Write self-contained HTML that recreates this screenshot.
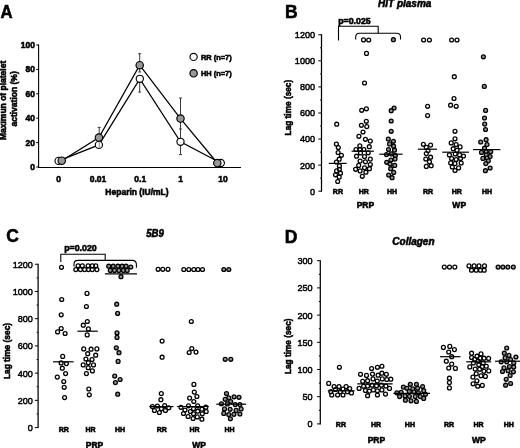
<!DOCTYPE html>
<html><head><meta charset="utf-8"><style>
html,body{margin:0;padding:0;background:#fff;width:520px;height:448px;overflow:hidden}
svg{display:block;filter:grayscale(100%)}
text{font-family:"Liberation Sans", sans-serif;fill:#000}
</style></head><body>
<svg width="520" height="448" viewBox="0 0 520 448">
<rect width="520" height="448" fill="#fff"/>
<text font-size="18.0" font-weight="bold" text-anchor="start" transform="translate(0.6 18) scale(0.93 1)" stroke="#000" stroke-width="0.55">A</text>
<line x1="38.6" y1="44.5" x2="38.6" y2="167.5" stroke="#000" stroke-width="1.1"/>
<line x1="36.2" y1="167.0" x2="38.6" y2="167.0" stroke="#000" stroke-width="1.0"/>
<text font-size="8.5" font-weight="bold" text-anchor="end" transform="translate(34.9 170.0)" stroke="#000" stroke-width="0.55">0</text>
<line x1="36.2" y1="142.6" x2="38.6" y2="142.6" stroke="#000" stroke-width="1.0"/>
<text font-size="8.5" font-weight="bold" text-anchor="end" transform="translate(34.9 145.6)" stroke="#000" stroke-width="0.55">20</text>
<line x1="36.2" y1="118.2" x2="38.6" y2="118.2" stroke="#000" stroke-width="1.0"/>
<text font-size="8.5" font-weight="bold" text-anchor="end" transform="translate(34.9 121.2)" stroke="#000" stroke-width="0.55">40</text>
<line x1="36.2" y1="93.80000000000001" x2="38.6" y2="93.80000000000001" stroke="#000" stroke-width="1.0"/>
<text font-size="8.5" font-weight="bold" text-anchor="end" transform="translate(34.9 96.80000000000001)" stroke="#000" stroke-width="0.55">60</text>
<line x1="36.2" y1="69.4" x2="38.6" y2="69.4" stroke="#000" stroke-width="1.0"/>
<text font-size="8.5" font-weight="bold" text-anchor="end" transform="translate(34.9 72.4)" stroke="#000" stroke-width="0.55">80</text>
<line x1="36.2" y1="45.0" x2="38.6" y2="45.0" stroke="#000" stroke-width="1.0"/>
<text font-size="8.5" font-weight="bold" text-anchor="end" transform="translate(34.9 48.0)" stroke="#000" stroke-width="0.55">100</text>
<line x1="38.1" y1="167.5" x2="241" y2="167.5" stroke="#000" stroke-width="1.15"/>
<text font-size="8.5" font-weight="bold" text-anchor="middle" transform="translate(58.7 182.2)" stroke="#000" stroke-width="0.55">0</text>
<text font-size="8.5" font-weight="bold" text-anchor="middle" transform="translate(98 182.2)" stroke="#000" stroke-width="0.55">0.01</text>
<text font-size="8.5" font-weight="bold" text-anchor="middle" transform="translate(140.2 182.2)" stroke="#000" stroke-width="0.55">0.1</text>
<text font-size="8.5" font-weight="bold" text-anchor="middle" transform="translate(180.5 182.2)" stroke="#000" stroke-width="0.55">1</text>
<text font-size="8.5" font-weight="bold" text-anchor="middle" transform="translate(223 182.2)" stroke="#000" stroke-width="0.55">10</text>
<text font-size="8.5" font-weight="bold" text-anchor="middle" transform="translate(137 194.6)" stroke="#000" stroke-width="0.55">Heparin (IU/mL)</text>
<text font-size="8.5" font-weight="bold" text-anchor="middle" transform="translate(5.8 100.4) rotate(-90)" stroke="#000" stroke-width="0.55">Maximun of platelet</text>
<text font-size="8.5" font-weight="bold" text-anchor="middle" transform="translate(16.6 98.9) rotate(-90)" stroke="#000" stroke-width="0.55">activation (%)</text>
<line x1="99.2" y1="137.6" x2="99.2" y2="127.4" stroke="#3a3a3a" stroke-width="1.0"/>
<line x1="97.7" y1="127.4" x2="100.7" y2="127.4" stroke="#3a3a3a" stroke-width="1.0"/>
<line x1="99.2" y1="145" x2="99.2" y2="148.5" stroke="#3a3a3a" stroke-width="1.0"/>
<line x1="139.7" y1="65.2" x2="139.7" y2="53.7" stroke="#3a3a3a" stroke-width="1.0"/>
<line x1="138.2" y1="53.7" x2="141.2" y2="53.7" stroke="#3a3a3a" stroke-width="1.0"/>
<line x1="139.7" y1="65.2" x2="139.7" y2="72" stroke="#3a3a3a" stroke-width="1.0"/>
<line x1="138.2" y1="72" x2="141.2" y2="72" stroke="#3a3a3a" stroke-width="1.0"/>
<line x1="139.7" y1="78.8" x2="139.7" y2="92.1" stroke="#3a3a3a" stroke-width="1.0"/>
<line x1="138.2" y1="92.1" x2="141.2" y2="92.1" stroke="#3a3a3a" stroke-width="1.0"/>
<line x1="180.5" y1="118.6" x2="180.5" y2="98" stroke="#3a3a3a" stroke-width="1.0"/>
<line x1="179.0" y1="98" x2="182.0" y2="98" stroke="#3a3a3a" stroke-width="1.0"/>
<line x1="180.5" y1="118.6" x2="180.5" y2="129" stroke="#3a3a3a" stroke-width="1.0"/>
<line x1="179.0" y1="129" x2="182.0" y2="129" stroke="#3a3a3a" stroke-width="1.0"/>
<line x1="180.5" y1="141.8" x2="180.5" y2="154.6" stroke="#3a3a3a" stroke-width="1.0"/>
<line x1="179.0" y1="154.6" x2="182.0" y2="154.6" stroke="#3a3a3a" stroke-width="1.0"/>
<line x1="180.5" y1="141.8" x2="180.5" y2="128" stroke="#3a3a3a" stroke-width="1.0"/>
<path d="M58.6,160.9 L98.9,144.9 L139.8,78.8 L180.5,141.8 L220.8,163.0" fill="none" stroke="#000" stroke-width="1.25"/>
<path d="M61.7,160.7 L98.9,137.6 L139.7,65.2 L180.5,118.6 L217.3,163.0" fill="none" stroke="#000" stroke-width="1.25"/>
<circle cx="58.6" cy="160.9" r="3.6" fill="#fff" stroke="#000" stroke-width="1.15"/>
<circle cx="98.9" cy="144.9" r="3.6" fill="#fff" stroke="#000" stroke-width="1.15"/>
<circle cx="139.8" cy="78.8" r="3.6" fill="#fff" stroke="#000" stroke-width="1.15"/>
<circle cx="180.5" cy="141.8" r="3.6" fill="#fff" stroke="#000" stroke-width="1.15"/>
<circle cx="61.7" cy="160.7" r="3.7" fill="#979797" stroke="#000" stroke-width="1.15"/>
<circle cx="98.9" cy="137.6" r="3.7" fill="#979797" stroke="#000" stroke-width="1.15"/>
<circle cx="139.7" cy="65.2" r="3.7" fill="#979797" stroke="#000" stroke-width="1.15"/>
<circle cx="180.5" cy="118.6" r="3.7" fill="#979797" stroke="#000" stroke-width="1.15"/>
<line x1="99.2" y1="141.6" x2="99.2" y2="148.4" stroke="#777" stroke-width="0.9"/>
<circle cx="220.8" cy="163.0" r="3.6" fill="#fff" stroke="#000" stroke-width="1.15"/>
<circle cx="217.3" cy="163.0" r="3.7" fill="#979797" stroke="#000" stroke-width="1.15"/>
<circle cx="193.6" cy="56.9" r="3.6" fill="#fff" stroke="#000" stroke-width="1.15"/>
<circle cx="193.6" cy="73.3" r="3.7" fill="#979797" stroke="#000" stroke-width="1.15"/>
<text font-size="7.4" font-weight="bold" text-anchor="start" transform="translate(201.0 60.0)" stroke="#000" stroke-width="0.55">RR (n=7)</text>
<text font-size="7.4" font-weight="bold" text-anchor="start" transform="translate(201.0 76.3)" stroke="#000" stroke-width="0.55">HH (n=7)</text>
<text font-size="17.5" font-weight="bold" text-anchor="start" transform="translate(285.0 17.7)" stroke="#000" stroke-width="0.55">B</text>
<text font-size="10" font-weight="bold" font-style="italic" text-anchor="start" transform="translate(378.0 6.6)" stroke="#000" stroke-width="0.55">HIT plasma</text>
<line x1="321.5" y1="34.27999999999997" x2="321.5" y2="191.7" stroke="#000" stroke-width="1.25"/>
<line x1="318.3" y1="191.2" x2="321.5" y2="191.2" stroke="#000" stroke-width="1.0"/>
<text font-size="9.8" font-weight="normal" text-anchor="end" transform="translate(315.1 194.6) scale(0.93 1)" stroke="#000" stroke-width="0.5">0</text>
<line x1="320.1" y1="178.165" x2="321.5" y2="178.165" stroke="#000" stroke-width="1.0"/>
<line x1="318.3" y1="165.13" x2="321.5" y2="165.13" stroke="#000" stroke-width="1.0"/>
<text font-size="9.8" font-weight="normal" text-anchor="end" transform="translate(315.1 168.53) scale(0.93 1)" stroke="#000" stroke-width="0.5">200</text>
<line x1="320.1" y1="152.095" x2="321.5" y2="152.095" stroke="#000" stroke-width="1.0"/>
<line x1="318.3" y1="139.06" x2="321.5" y2="139.06" stroke="#000" stroke-width="1.0"/>
<text font-size="9.8" font-weight="normal" text-anchor="end" transform="translate(315.1 142.46) scale(0.93 1)" stroke="#000" stroke-width="0.5">400</text>
<line x1="320.1" y1="126.025" x2="321.5" y2="126.025" stroke="#000" stroke-width="1.0"/>
<line x1="318.3" y1="112.98999999999998" x2="321.5" y2="112.98999999999998" stroke="#000" stroke-width="1.0"/>
<text font-size="9.8" font-weight="normal" text-anchor="end" transform="translate(315.1 116.38999999999999) scale(0.93 1)" stroke="#000" stroke-width="0.5">600</text>
<line x1="320.1" y1="99.95499999999998" x2="321.5" y2="99.95499999999998" stroke="#000" stroke-width="1.0"/>
<line x1="318.3" y1="86.91999999999999" x2="321.5" y2="86.91999999999999" stroke="#000" stroke-width="1.0"/>
<text font-size="9.8" font-weight="normal" text-anchor="end" transform="translate(315.1 90.32) scale(0.93 1)" stroke="#000" stroke-width="0.5">800</text>
<line x1="320.1" y1="73.88499999999999" x2="321.5" y2="73.88499999999999" stroke="#000" stroke-width="1.0"/>
<line x1="318.3" y1="60.849999999999994" x2="321.5" y2="60.849999999999994" stroke="#000" stroke-width="1.0"/>
<text font-size="9.8" font-weight="normal" text-anchor="end" transform="translate(315.1 64.25) scale(0.93 1)" stroke="#000" stroke-width="0.5">1000</text>
<line x1="320.1" y1="47.815" x2="321.5" y2="47.815" stroke="#000" stroke-width="1.0"/>
<line x1="318.3" y1="34.77999999999997" x2="321.5" y2="34.77999999999997" stroke="#000" stroke-width="1.0"/>
<text font-size="9.8" font-weight="normal" text-anchor="end" transform="translate(315.1 38.17999999999997) scale(0.93 1)" stroke="#000" stroke-width="0.5">1200</text>
<text font-size="8.9" font-weight="bold" text-anchor="middle" transform="translate(290.5 107.6) rotate(-90) scale(0.93 1)" stroke="#000" stroke-width="0.55">Lag time (sec)</text>
<text font-size="7" font-weight="bold" text-anchor="middle" transform="translate(337.9 194.4)" stroke="#000" stroke-width="0.55">RR</text>
<text font-size="7" font-weight="bold" text-anchor="middle" transform="translate(363.7 194.4)" stroke="#000" stroke-width="0.55">HR</text>
<text font-size="7" font-weight="bold" text-anchor="middle" transform="translate(392.1 194.4)" stroke="#000" stroke-width="0.55">HH</text>
<text font-size="7" font-weight="bold" text-anchor="middle" transform="translate(428 194.4)" stroke="#000" stroke-width="0.55">RR</text>
<text font-size="7" font-weight="bold" text-anchor="middle" transform="translate(456.8 194.4)" stroke="#000" stroke-width="0.55">HR</text>
<text font-size="7" font-weight="bold" text-anchor="middle" transform="translate(487 194.4)" stroke="#000" stroke-width="0.55">HH</text>
<text font-size="8.5" font-weight="bold" text-anchor="middle" transform="translate(365.4 208.1)" stroke="#000" stroke-width="0.55">PRP</text>
<text font-size="8.5" font-weight="bold" text-anchor="middle" transform="translate(459.2 208.1)" stroke="#000" stroke-width="0.55">WP</text>
<text font-size="8.8" font-weight="bold" text-anchor="start" transform="translate(338.2 23.6)" stroke="#000" stroke-width="0.55">p=0.025</text>
<path d="M338.5,40.5 L338.5,26.2 L378.2,26.2 L378.2,33.2" fill="none" stroke="#000" stroke-width="1.1"/>
<path d="M355.7,39.6 L355.7,37 Q355.7,33.2 359.5,33.2 L396.7,33.2 Q400.5,33.2 400.5,37 L400.5,39.6" fill="none" stroke="#000" stroke-width="1.1"/>
<circle cx="336.7" cy="124.2" r="1.95" fill="none" stroke="#000" stroke-width="1.28"/>
<circle cx="336.4" cy="144.1" r="1.95" fill="none" stroke="#000" stroke-width="1.28"/>
<circle cx="338.3" cy="147.5" r="1.95" fill="none" stroke="#000" stroke-width="1.28"/>
<circle cx="338.1" cy="152.5" r="1.95" fill="none" stroke="#000" stroke-width="1.28"/>
<circle cx="341.4" cy="155.3" r="1.95" fill="none" stroke="#000" stroke-width="1.28"/>
<circle cx="339.2" cy="159.2" r="1.95" fill="none" stroke="#000" stroke-width="1.28"/>
<circle cx="336.4" cy="162" r="1.95" fill="none" stroke="#000" stroke-width="1.28"/>
<circle cx="339.4" cy="165.9" r="1.95" fill="none" stroke="#000" stroke-width="1.28"/>
<circle cx="339.4" cy="169.3" r="1.95" fill="none" stroke="#000" stroke-width="1.28"/>
<circle cx="336.6" cy="170.9" r="1.95" fill="none" stroke="#000" stroke-width="1.28"/>
<circle cx="340.5" cy="173.2" r="1.95" fill="none" stroke="#000" stroke-width="1.28"/>
<circle cx="335.5" cy="174.8" r="1.95" fill="none" stroke="#000" stroke-width="1.28"/>
<circle cx="339.2" cy="177.1" r="1.95" fill="none" stroke="#000" stroke-width="1.28"/>
<circle cx="337.7" cy="181.5" r="1.95" fill="none" stroke="#000" stroke-width="1.28"/>
<circle cx="363.5" cy="39.9" r="1.95" fill="none" stroke="#000" stroke-width="1.28"/>
<circle cx="368.7" cy="40" r="1.95" fill="none" stroke="#000" stroke-width="1.28"/>
<circle cx="366.5" cy="53.4" r="1.95" fill="none" stroke="#000" stroke-width="1.28"/>
<circle cx="364.5" cy="83" r="1.95" fill="none" stroke="#000" stroke-width="1.28"/>
<circle cx="361.7" cy="110.3" r="1.95" fill="none" stroke="#000" stroke-width="1.28"/>
<circle cx="366.4" cy="108.8" r="1.95" fill="none" stroke="#000" stroke-width="1.28"/>
<circle cx="366.3" cy="121.3" r="1.95" fill="none" stroke="#000" stroke-width="1.28"/>
<circle cx="361.4" cy="125.3" r="1.95" fill="none" stroke="#000" stroke-width="1.28"/>
<circle cx="366.8" cy="126.6" r="1.95" fill="none" stroke="#000" stroke-width="1.28"/>
<circle cx="363" cy="132" r="1.95" fill="none" stroke="#000" stroke-width="1.28"/>
<circle cx="358.9" cy="136.3" r="1.95" fill="none" stroke="#000" stroke-width="1.28"/>
<circle cx="365.4" cy="139.3" r="1.95" fill="none" stroke="#000" stroke-width="1.28"/>
<circle cx="370.3" cy="141.1" r="1.95" fill="none" stroke="#000" stroke-width="1.28"/>
<circle cx="359.8" cy="145.8" r="1.95" fill="none" stroke="#000" stroke-width="1.28"/>
<circle cx="369.3" cy="146.7" r="1.95" fill="none" stroke="#000" stroke-width="1.28"/>
<circle cx="356" cy="149.5" r="1.95" fill="none" stroke="#000" stroke-width="1.28"/>
<circle cx="360" cy="149.5" r="1.95" fill="none" stroke="#000" stroke-width="1.28"/>
<circle cx="363.9" cy="149.5" r="1.95" fill="none" stroke="#000" stroke-width="1.28"/>
<circle cx="368.2" cy="152.8" r="1.95" fill="none" stroke="#000" stroke-width="1.28"/>
<circle cx="360.5" cy="152.9" r="1.95" fill="none" stroke="#000" stroke-width="1.28"/>
<circle cx="356.5" cy="156.2" r="1.95" fill="none" stroke="#000" stroke-width="1.28"/>
<circle cx="364.5" cy="156.6" r="1.95" fill="none" stroke="#000" stroke-width="1.28"/>
<circle cx="370.3" cy="159.1" r="1.95" fill="none" stroke="#000" stroke-width="1.28"/>
<circle cx="360.1" cy="161.1" r="1.95" fill="none" stroke="#000" stroke-width="1.28"/>
<circle cx="365.4" cy="161.8" r="1.95" fill="none" stroke="#000" stroke-width="1.28"/>
<circle cx="358.7" cy="165.4" r="1.95" fill="none" stroke="#000" stroke-width="1.28"/>
<circle cx="370.3" cy="164.5" r="1.95" fill="none" stroke="#000" stroke-width="1.28"/>
<circle cx="364.5" cy="167.8" r="1.95" fill="none" stroke="#000" stroke-width="1.28"/>
<circle cx="369.4" cy="168.7" r="1.95" fill="none" stroke="#000" stroke-width="1.28"/>
<circle cx="355.6" cy="169.3" r="1.95" fill="none" stroke="#000" stroke-width="1.28"/>
<circle cx="360.1" cy="170.9" r="1.95" fill="none" stroke="#000" stroke-width="1.28"/>
<circle cx="365.9" cy="172.2" r="1.95" fill="none" stroke="#000" stroke-width="1.28"/>
<circle cx="362.3" cy="176.3" r="1.95" fill="none" stroke="#000" stroke-width="1.28"/>
<circle cx="423.6" cy="40" r="1.95" fill="none" stroke="#000" stroke-width="1.28"/>
<circle cx="429.4" cy="40" r="1.95" fill="none" stroke="#000" stroke-width="1.28"/>
<circle cx="427.6" cy="106.3" r="1.95" fill="none" stroke="#000" stroke-width="1.28"/>
<circle cx="427.6" cy="115.6" r="1.95" fill="none" stroke="#000" stroke-width="1.28"/>
<circle cx="423.4" cy="144.3" r="1.95" fill="none" stroke="#000" stroke-width="1.28"/>
<circle cx="430.6" cy="145.1" r="1.95" fill="none" stroke="#000" stroke-width="1.28"/>
<circle cx="426.3" cy="147.4" r="1.95" fill="none" stroke="#000" stroke-width="1.28"/>
<circle cx="428.1" cy="150.5" r="1.95" fill="none" stroke="#000" stroke-width="1.28"/>
<circle cx="426.3" cy="153.6" r="1.95" fill="none" stroke="#000" stroke-width="1.28"/>
<circle cx="430.6" cy="157.2" r="1.95" fill="none" stroke="#000" stroke-width="1.28"/>
<circle cx="425.8" cy="159" r="1.95" fill="none" stroke="#000" stroke-width="1.28"/>
<circle cx="429.4" cy="161.7" r="1.95" fill="none" stroke="#000" stroke-width="1.28"/>
<circle cx="426.3" cy="166.4" r="1.95" fill="none" stroke="#000" stroke-width="1.28"/>
<circle cx="431.2" cy="165.7" r="1.95" fill="none" stroke="#000" stroke-width="1.28"/>
<circle cx="451.6" cy="40" r="1.95" fill="none" stroke="#000" stroke-width="1.28"/>
<circle cx="457" cy="40" r="1.95" fill="none" stroke="#000" stroke-width="1.28"/>
<circle cx="454.3" cy="76.7" r="1.95" fill="none" stroke="#000" stroke-width="1.28"/>
<circle cx="454" cy="98.5" r="1.95" fill="none" stroke="#000" stroke-width="1.28"/>
<circle cx="450.6" cy="105.2" r="1.95" fill="none" stroke="#000" stroke-width="1.28"/>
<circle cx="456.2" cy="106.3" r="1.95" fill="none" stroke="#000" stroke-width="1.28"/>
<circle cx="455" cy="131.3" r="1.95" fill="none" stroke="#000" stroke-width="1.28"/>
<circle cx="455" cy="138.8" r="1.95" fill="none" stroke="#000" stroke-width="1.28"/>
<circle cx="451.2" cy="142.9" r="1.95" fill="none" stroke="#000" stroke-width="1.28"/>
<circle cx="456.1" cy="144.6" r="1.95" fill="none" stroke="#000" stroke-width="1.28"/>
<circle cx="460.1" cy="146.9" r="1.95" fill="none" stroke="#000" stroke-width="1.28"/>
<circle cx="453.2" cy="148.7" r="1.95" fill="none" stroke="#000" stroke-width="1.28"/>
<circle cx="457" cy="150.4" r="1.95" fill="none" stroke="#000" stroke-width="1.28"/>
<circle cx="449.4" cy="154.9" r="1.95" fill="none" stroke="#000" stroke-width="1.28"/>
<circle cx="455.2" cy="154" r="1.95" fill="none" stroke="#000" stroke-width="1.28"/>
<circle cx="459.6" cy="154.9" r="1.95" fill="none" stroke="#000" stroke-width="1.28"/>
<circle cx="463.5" cy="156" r="1.95" fill="none" stroke="#000" stroke-width="1.28"/>
<circle cx="451.6" cy="158.5" r="1.95" fill="none" stroke="#000" stroke-width="1.28"/>
<circle cx="456.1" cy="159.5" r="1.95" fill="none" stroke="#000" stroke-width="1.28"/>
<circle cx="460.5" cy="158.5" r="1.95" fill="none" stroke="#000" stroke-width="1.28"/>
<circle cx="450.7" cy="162.9" r="1.95" fill="none" stroke="#000" stroke-width="1.28"/>
<circle cx="454.9" cy="163.6" r="1.95" fill="none" stroke="#000" stroke-width="1.28"/>
<circle cx="461.2" cy="163" r="1.95" fill="none" stroke="#000" stroke-width="1.28"/>
<circle cx="452.3" cy="167" r="1.95" fill="none" stroke="#000" stroke-width="1.28"/>
<circle cx="458.6" cy="167.9" r="1.95" fill="none" stroke="#000" stroke-width="1.28"/>
<circle cx="455" cy="170.5" r="1.95" fill="none" stroke="#000" stroke-width="1.28"/>
<circle cx="393.4" cy="39.7" r="1.95" fill="#969696" stroke="#000" stroke-width="1.28"/>
<circle cx="394.1" cy="108" r="1.95" fill="#969696" stroke="#000" stroke-width="1.28"/>
<circle cx="391.2" cy="110.7" r="1.95" fill="#969696" stroke="#000" stroke-width="1.28"/>
<circle cx="391.2" cy="121" r="1.95" fill="#969696" stroke="#000" stroke-width="1.28"/>
<circle cx="391.2" cy="131.3" r="1.95" fill="#969696" stroke="#000" stroke-width="1.28"/>
<circle cx="388.3" cy="139" r="1.95" fill="#969696" stroke="#000" stroke-width="1.28"/>
<circle cx="393.4" cy="141.3" r="1.95" fill="#969696" stroke="#000" stroke-width="1.28"/>
<circle cx="389.6" cy="143.9" r="1.95" fill="#969696" stroke="#000" stroke-width="1.28"/>
<circle cx="393.6" cy="146.2" r="1.95" fill="#969696" stroke="#000" stroke-width="1.28"/>
<circle cx="388.5" cy="149.5" r="1.95" fill="#969696" stroke="#000" stroke-width="1.28"/>
<circle cx="394.5" cy="150.2" r="1.95" fill="#969696" stroke="#000" stroke-width="1.28"/>
<circle cx="386.5" cy="154.6" r="1.95" fill="#969696" stroke="#000" stroke-width="1.28"/>
<circle cx="391.4" cy="153.9" r="1.95" fill="#969696" stroke="#000" stroke-width="1.28"/>
<circle cx="395.4" cy="155.5" r="1.95" fill="#969696" stroke="#000" stroke-width="1.28"/>
<circle cx="390.9" cy="160" r="1.95" fill="#969696" stroke="#000" stroke-width="1.28"/>
<circle cx="395" cy="159.1" r="1.95" fill="#969696" stroke="#000" stroke-width="1.28"/>
<circle cx="386.7" cy="162.3" r="1.95" fill="#969696" stroke="#000" stroke-width="1.28"/>
<circle cx="390.1" cy="164" r="1.95" fill="#969696" stroke="#000" stroke-width="1.28"/>
<circle cx="394.7" cy="165.4" r="1.95" fill="#969696" stroke="#000" stroke-width="1.28"/>
<circle cx="390.7" cy="168.7" r="1.95" fill="#969696" stroke="#000" stroke-width="1.28"/>
<circle cx="393.7" cy="172.4" r="1.95" fill="#969696" stroke="#000" stroke-width="1.28"/>
<circle cx="388.7" cy="175.1" r="1.95" fill="#969696" stroke="#000" stroke-width="1.28"/>
<circle cx="392.1" cy="177.7" r="1.95" fill="#969696" stroke="#000" stroke-width="1.28"/>
<circle cx="483.4" cy="56.8" r="1.95" fill="#969696" stroke="#000" stroke-width="1.28"/>
<circle cx="484.3" cy="86.4" r="1.95" fill="#969696" stroke="#000" stroke-width="1.28"/>
<circle cx="485.6" cy="110.4" r="1.95" fill="#969696" stroke="#000" stroke-width="1.28"/>
<circle cx="484.5" cy="118" r="1.95" fill="#969696" stroke="#000" stroke-width="1.28"/>
<circle cx="484.7" cy="124.1" r="1.95" fill="#969696" stroke="#000" stroke-width="1.28"/>
<circle cx="485.5" cy="129.5" r="1.95" fill="#969696" stroke="#000" stroke-width="1.28"/>
<circle cx="486.1" cy="139.7" r="1.95" fill="#969696" stroke="#000" stroke-width="1.28"/>
<circle cx="480.7" cy="142" r="1.95" fill="#969696" stroke="#000" stroke-width="1.28"/>
<circle cx="487" cy="144.6" r="1.95" fill="#969696" stroke="#000" stroke-width="1.28"/>
<circle cx="484.5" cy="148.2" r="1.95" fill="#969696" stroke="#000" stroke-width="1.28"/>
<circle cx="481.5" cy="152.4" r="1.95" fill="#969696" stroke="#000" stroke-width="1.28"/>
<circle cx="486.1" cy="151.8" r="1.95" fill="#969696" stroke="#000" stroke-width="1.28"/>
<circle cx="490.7" cy="151.8" r="1.95" fill="#969696" stroke="#000" stroke-width="1.28"/>
<circle cx="486.3" cy="154.9" r="1.95" fill="#969696" stroke="#000" stroke-width="1.28"/>
<circle cx="490.1" cy="156.6" r="1.95" fill="#969696" stroke="#000" stroke-width="1.28"/>
<circle cx="482.9" cy="158.4" r="1.95" fill="#969696" stroke="#000" stroke-width="1.28"/>
<circle cx="487" cy="158.1" r="1.95" fill="#969696" stroke="#000" stroke-width="1.28"/>
<circle cx="488.3" cy="160.8" r="1.95" fill="#969696" stroke="#000" stroke-width="1.28"/>
<circle cx="485.8" cy="163.6" r="1.95" fill="#969696" stroke="#000" stroke-width="1.28"/>
<circle cx="490.1" cy="168" r="1.95" fill="#969696" stroke="#000" stroke-width="1.28"/>
<circle cx="485.4" cy="170.7" r="1.95" fill="#969696" stroke="#000" stroke-width="1.28"/>
<line x1="328.8" y1="163.4" x2="346.6" y2="163.4" stroke="#000" stroke-width="1.2"/>
<line x1="351.6" y1="151.2" x2="373.9" y2="151.2" stroke="#000" stroke-width="1.2"/>
<line x1="379.3" y1="154.2" x2="402.6" y2="154.2" stroke="#000" stroke-width="1.2"/>
<line x1="417.8" y1="149.2" x2="437" y2="149.2" stroke="#000" stroke-width="1.2"/>
<line x1="442.2" y1="152.2" x2="469" y2="152.2" stroke="#000" stroke-width="1.2"/>
<line x1="473.1" y1="149.6" x2="500.4" y2="149.6" stroke="#000" stroke-width="1.2"/>
<text font-size="17.5" font-weight="bold" text-anchor="start" transform="translate(6.3 242.2)" stroke="#000" stroke-width="0.55">C</text>
<text font-size="10" font-weight="bold" font-style="italic" text-anchor="start" transform="translate(146.2 236.5) scale(0.96 1)" stroke="#000" stroke-width="0.55">5B9</text>
<line x1="38.1" y1="263.72" x2="38.1" y2="428.1" stroke="#000" stroke-width="1.25"/>
<line x1="34.9" y1="427.6" x2="38.1" y2="427.6" stroke="#000" stroke-width="1.0"/>
<text font-size="9.8" font-weight="normal" text-anchor="end" transform="translate(32.9 431.0) scale(0.93 1)" stroke="#000" stroke-width="0.5">0</text>
<line x1="36.7" y1="413.985" x2="38.1" y2="413.985" stroke="#000" stroke-width="1.0"/>
<line x1="34.9" y1="400.37" x2="38.1" y2="400.37" stroke="#000" stroke-width="1.0"/>
<text font-size="9.8" font-weight="normal" text-anchor="end" transform="translate(32.9 403.77) scale(0.93 1)" stroke="#000" stroke-width="0.5">200</text>
<line x1="36.7" y1="386.755" x2="38.1" y2="386.755" stroke="#000" stroke-width="1.0"/>
<line x1="34.9" y1="373.14000000000004" x2="38.1" y2="373.14000000000004" stroke="#000" stroke-width="1.0"/>
<text font-size="9.8" font-weight="normal" text-anchor="end" transform="translate(32.9 376.54) scale(0.93 1)" stroke="#000" stroke-width="0.5">400</text>
<line x1="36.7" y1="359.52500000000003" x2="38.1" y2="359.52500000000003" stroke="#000" stroke-width="1.0"/>
<line x1="34.9" y1="345.91" x2="38.1" y2="345.91" stroke="#000" stroke-width="1.0"/>
<text font-size="9.8" font-weight="normal" text-anchor="end" transform="translate(32.9 349.31) scale(0.93 1)" stroke="#000" stroke-width="0.5">600</text>
<line x1="36.7" y1="332.295" x2="38.1" y2="332.295" stroke="#000" stroke-width="1.0"/>
<line x1="34.9" y1="318.68" x2="38.1" y2="318.68" stroke="#000" stroke-width="1.0"/>
<text font-size="9.8" font-weight="normal" text-anchor="end" transform="translate(32.9 322.08) scale(0.93 1)" stroke="#000" stroke-width="0.5">800</text>
<line x1="36.7" y1="305.065" x2="38.1" y2="305.065" stroke="#000" stroke-width="1.0"/>
<line x1="34.9" y1="291.45000000000005" x2="38.1" y2="291.45000000000005" stroke="#000" stroke-width="1.0"/>
<text font-size="9.8" font-weight="normal" text-anchor="end" transform="translate(32.9 294.85) scale(0.93 1)" stroke="#000" stroke-width="0.5">1000</text>
<line x1="36.7" y1="277.83500000000004" x2="38.1" y2="277.83500000000004" stroke="#000" stroke-width="1.0"/>
<line x1="34.9" y1="264.22" x2="38.1" y2="264.22" stroke="#000" stroke-width="1.0"/>
<text font-size="9.8" font-weight="normal" text-anchor="end" transform="translate(32.9 267.62) scale(0.93 1)" stroke="#000" stroke-width="0.5">1200</text>
<text font-size="8.9" font-weight="bold" text-anchor="middle" transform="translate(10.0 351) rotate(-90) scale(0.94 1)" stroke="#000" stroke-width="0.55">Lag time (sec)</text>
<text font-size="7" font-weight="bold" text-anchor="middle" transform="translate(63.8 431.9)" stroke="#000" stroke-width="0.55">RR</text>
<text font-size="7" font-weight="bold" text-anchor="middle" transform="translate(90.5 431.9)" stroke="#000" stroke-width="0.55">HR</text>
<text font-size="7" font-weight="bold" text-anchor="middle" transform="translate(120 431.9)" stroke="#000" stroke-width="0.55">HH</text>
<text font-size="7" font-weight="bold" text-anchor="middle" transform="translate(161.8 431.9)" stroke="#000" stroke-width="0.55">RR</text>
<text font-size="7" font-weight="bold" text-anchor="middle" transform="translate(194.5 431.9)" stroke="#000" stroke-width="0.55">HR</text>
<text font-size="7" font-weight="bold" text-anchor="middle" transform="translate(229.6 431.9)" stroke="#000" stroke-width="0.55">HH</text>
<text font-size="8.5" font-weight="bold" text-anchor="middle" transform="translate(94.5 448.3)" stroke="#000" stroke-width="0.55">PRP</text>
<text font-size="8.5" font-weight="bold" text-anchor="middle" transform="translate(199 448.3)" stroke="#000" stroke-width="0.55">WP</text>
<text font-size="8.8" font-weight="bold" text-anchor="start" transform="translate(64.2 251.2)" stroke="#000" stroke-width="0.55">p=0.020</text>
<path d="M60.8,262 L60.8,254.2 L105.2,254.2 L105.2,260.4" fill="none" stroke="#000" stroke-width="1.1"/>
<path d="M74.0,266.5 L74.0,264.2 Q74.0,260.4 77.8,260.4 L132.4,260.4 Q136.4,260.4 136.4,264.6 L136.4,267.8" fill="none" stroke="#000" stroke-width="1.1"/>
<circle cx="61.5" cy="267.3" r="1.95" fill="none" stroke="#000" stroke-width="1.28"/>
<circle cx="61.7" cy="299.5" r="1.95" fill="none" stroke="#000" stroke-width="1.28"/>
<circle cx="61.2" cy="314.8" r="1.95" fill="none" stroke="#000" stroke-width="1.28"/>
<circle cx="61.2" cy="328.5" r="1.95" fill="none" stroke="#000" stroke-width="1.28"/>
<circle cx="57.6" cy="331.9" r="1.95" fill="none" stroke="#000" stroke-width="1.28"/>
<circle cx="65.1" cy="333.5" r="1.95" fill="none" stroke="#000" stroke-width="1.28"/>
<circle cx="62.7" cy="356.4" r="1.95" fill="none" stroke="#000" stroke-width="1.28"/>
<circle cx="61.1" cy="362.9" r="1.95" fill="none" stroke="#000" stroke-width="1.28"/>
<circle cx="66.4" cy="363.6" r="1.95" fill="none" stroke="#000" stroke-width="1.28"/>
<circle cx="62.3" cy="368.2" r="1.95" fill="none" stroke="#000" stroke-width="1.28"/>
<circle cx="65.6" cy="373.6" r="1.95" fill="none" stroke="#000" stroke-width="1.28"/>
<circle cx="57.3" cy="377.1" r="1.95" fill="none" stroke="#000" stroke-width="1.28"/>
<circle cx="63.75" cy="381.5" r="1.95" fill="none" stroke="#000" stroke-width="1.28"/>
<circle cx="64.2" cy="387.3" r="1.95" fill="none" stroke="#000" stroke-width="1.28"/>
<circle cx="64.6" cy="397.6" r="1.95" fill="none" stroke="#000" stroke-width="1.28"/>
<circle cx="78.1" cy="265.8" r="1.95" fill="none" stroke="#000" stroke-width="1.28"/>
<circle cx="82.3" cy="265.8" r="1.95" fill="none" stroke="#000" stroke-width="1.28"/>
<circle cx="88.1" cy="265.8" r="1.95" fill="none" stroke="#000" stroke-width="1.28"/>
<circle cx="92.3" cy="265.8" r="1.95" fill="none" stroke="#000" stroke-width="1.28"/>
<circle cx="95.8" cy="265.8" r="1.95" fill="none" stroke="#000" stroke-width="1.28"/>
<circle cx="75.8" cy="269.6" r="1.95" fill="none" stroke="#000" stroke-width="1.28"/>
<circle cx="80.4" cy="269.6" r="1.95" fill="none" stroke="#000" stroke-width="1.28"/>
<circle cx="84.6" cy="269.6" r="1.95" fill="none" stroke="#000" stroke-width="1.28"/>
<circle cx="88.5" cy="269.6" r="1.95" fill="none" stroke="#000" stroke-width="1.28"/>
<circle cx="92.3" cy="269.6" r="1.95" fill="none" stroke="#000" stroke-width="1.28"/>
<circle cx="96.9" cy="269.6" r="1.95" fill="none" stroke="#000" stroke-width="1.28"/>
<circle cx="87" cy="293.4" r="1.95" fill="none" stroke="#000" stroke-width="1.28"/>
<circle cx="86.4" cy="306.5" r="1.95" fill="none" stroke="#000" stroke-width="1.28"/>
<circle cx="87.3" cy="321.5" r="1.95" fill="none" stroke="#000" stroke-width="1.28"/>
<circle cx="83.3" cy="325.2" r="1.95" fill="none" stroke="#000" stroke-width="1.28"/>
<circle cx="88.4" cy="328.9" r="1.95" fill="none" stroke="#000" stroke-width="1.28"/>
<circle cx="87.2" cy="334.9" r="1.95" fill="none" stroke="#000" stroke-width="1.28"/>
<circle cx="83.75" cy="348.9" r="1.95" fill="none" stroke="#000" stroke-width="1.28"/>
<circle cx="91.1" cy="349.2" r="1.95" fill="none" stroke="#000" stroke-width="1.28"/>
<circle cx="96.9" cy="348.9" r="1.95" fill="none" stroke="#000" stroke-width="1.28"/>
<circle cx="87.7" cy="353.7" r="1.95" fill="none" stroke="#000" stroke-width="1.28"/>
<circle cx="95.7" cy="355.2" r="1.95" fill="none" stroke="#000" stroke-width="1.28"/>
<circle cx="85.9" cy="359" r="1.95" fill="none" stroke="#000" stroke-width="1.28"/>
<circle cx="92" cy="359.5" r="1.95" fill="none" stroke="#000" stroke-width="1.28"/>
<circle cx="88.3" cy="362.7" r="1.95" fill="none" stroke="#000" stroke-width="1.28"/>
<circle cx="83.2" cy="364.9" r="1.95" fill="none" stroke="#000" stroke-width="1.28"/>
<circle cx="93.5" cy="364.9" r="1.95" fill="none" stroke="#000" stroke-width="1.28"/>
<circle cx="88.2" cy="367.7" r="1.95" fill="none" stroke="#000" stroke-width="1.28"/>
<circle cx="92.4" cy="370.9" r="1.95" fill="none" stroke="#000" stroke-width="1.28"/>
<circle cx="86.4" cy="373.6" r="1.95" fill="none" stroke="#000" stroke-width="1.28"/>
<circle cx="88.8" cy="389" r="1.95" fill="none" stroke="#000" stroke-width="1.28"/>
<circle cx="89.3" cy="394.8" r="1.95" fill="none" stroke="#000" stroke-width="1.28"/>
<circle cx="158.1" cy="269.3" r="1.95" fill="none" stroke="#000" stroke-width="1.28"/>
<circle cx="162.8" cy="269.3" r="1.95" fill="none" stroke="#000" stroke-width="1.28"/>
<circle cx="168" cy="269.3" r="1.95" fill="none" stroke="#000" stroke-width="1.28"/>
<circle cx="162.1" cy="341.1" r="1.95" fill="none" stroke="#000" stroke-width="1.28"/>
<circle cx="162.1" cy="357.2" r="1.95" fill="none" stroke="#000" stroke-width="1.28"/>
<circle cx="161.3" cy="393.6" r="1.95" fill="none" stroke="#000" stroke-width="1.28"/>
<circle cx="160.9" cy="399.7" r="1.95" fill="none" stroke="#000" stroke-width="1.28"/>
<circle cx="152.4" cy="406.5" r="1.95" fill="none" stroke="#000" stroke-width="1.28"/>
<circle cx="157.4" cy="406" r="1.95" fill="none" stroke="#000" stroke-width="1.28"/>
<circle cx="164.7" cy="405.5" r="1.95" fill="none" stroke="#000" stroke-width="1.28"/>
<circle cx="168.8" cy="407.8" r="1.95" fill="none" stroke="#000" stroke-width="1.28"/>
<circle cx="154.4" cy="410.5" r="1.95" fill="none" stroke="#000" stroke-width="1.28"/>
<circle cx="161.4" cy="408.8" r="1.95" fill="none" stroke="#000" stroke-width="1.28"/>
<circle cx="165.4" cy="410.5" r="1.95" fill="none" stroke="#000" stroke-width="1.28"/>
<circle cx="159.4" cy="412.5" r="1.95" fill="none" stroke="#000" stroke-width="1.28"/>
<circle cx="183.8" cy="269.5" r="1.95" fill="none" stroke="#000" stroke-width="1.28"/>
<circle cx="188.8" cy="269.5" r="1.95" fill="none" stroke="#000" stroke-width="1.28"/>
<circle cx="193.8" cy="269.5" r="1.95" fill="none" stroke="#000" stroke-width="1.28"/>
<circle cx="198" cy="269.5" r="1.95" fill="none" stroke="#000" stroke-width="1.28"/>
<circle cx="202.5" cy="269.5" r="1.95" fill="none" stroke="#000" stroke-width="1.28"/>
<circle cx="191.3" cy="321.5" r="1.95" fill="none" stroke="#000" stroke-width="1.28"/>
<circle cx="191.8" cy="348.5" r="1.95" fill="none" stroke="#000" stroke-width="1.28"/>
<circle cx="189.2" cy="352.5" r="1.95" fill="none" stroke="#000" stroke-width="1.28"/>
<circle cx="196" cy="352.1" r="1.95" fill="none" stroke="#000" stroke-width="1.28"/>
<circle cx="193.9" cy="384.4" r="1.95" fill="none" stroke="#000" stroke-width="1.28"/>
<circle cx="194.3" cy="392.1" r="1.95" fill="none" stroke="#000" stroke-width="1.28"/>
<circle cx="196.9" cy="396.5" r="1.95" fill="none" stroke="#000" stroke-width="1.28"/>
<circle cx="189.6" cy="398.1" r="1.95" fill="none" stroke="#000" stroke-width="1.28"/>
<circle cx="193.8" cy="401.5" r="1.95" fill="none" stroke="#000" stroke-width="1.28"/>
<circle cx="181" cy="407.3" r="1.95" fill="none" stroke="#000" stroke-width="1.28"/>
<circle cx="188.5" cy="405.8" r="1.95" fill="none" stroke="#000" stroke-width="1.28"/>
<circle cx="197.7" cy="405.8" r="1.95" fill="none" stroke="#000" stroke-width="1.28"/>
<circle cx="205.8" cy="407.2" r="1.95" fill="none" stroke="#000" stroke-width="1.28"/>
<circle cx="185" cy="410" r="1.95" fill="none" stroke="#000" stroke-width="1.28"/>
<circle cx="193.5" cy="408.8" r="1.95" fill="none" stroke="#000" stroke-width="1.28"/>
<circle cx="201.9" cy="409.2" r="1.95" fill="none" stroke="#000" stroke-width="1.28"/>
<circle cx="190.4" cy="411.5" r="1.95" fill="none" stroke="#000" stroke-width="1.28"/>
<circle cx="197.7" cy="411.2" r="1.95" fill="none" stroke="#000" stroke-width="1.28"/>
<circle cx="206.2" cy="411.5" r="1.95" fill="none" stroke="#000" stroke-width="1.28"/>
<circle cx="183.5" cy="413.5" r="1.95" fill="none" stroke="#000" stroke-width="1.28"/>
<circle cx="193.5" cy="413.8" r="1.95" fill="none" stroke="#000" stroke-width="1.28"/>
<circle cx="202.3" cy="413.8" r="1.95" fill="none" stroke="#000" stroke-width="1.28"/>
<circle cx="188.1" cy="416.5" r="1.95" fill="none" stroke="#000" stroke-width="1.28"/>
<circle cx="197.3" cy="416.9" r="1.95" fill="none" stroke="#000" stroke-width="1.28"/>
<circle cx="193.1" cy="418.5" r="1.95" fill="none" stroke="#000" stroke-width="1.28"/>
<circle cx="201.9" cy="419.2" r="1.95" fill="none" stroke="#000" stroke-width="1.28"/>
<circle cx="108.75" cy="266.2" r="1.95" fill="#969696" stroke="#000" stroke-width="1.28"/>
<circle cx="113.2" cy="266.2" r="1.95" fill="#969696" stroke="#000" stroke-width="1.28"/>
<circle cx="117.9" cy="266.2" r="1.95" fill="#969696" stroke="#000" stroke-width="1.28"/>
<circle cx="122.1" cy="266.2" r="1.95" fill="#969696" stroke="#000" stroke-width="1.28"/>
<circle cx="126.1" cy="266.2" r="1.95" fill="#969696" stroke="#000" stroke-width="1.28"/>
<circle cx="130.8" cy="267" r="1.95" fill="#969696" stroke="#000" stroke-width="1.28"/>
<circle cx="110.3" cy="270.4" r="1.95" fill="#969696" stroke="#000" stroke-width="1.28"/>
<circle cx="114.5" cy="270.4" r="1.95" fill="#969696" stroke="#000" stroke-width="1.28"/>
<circle cx="118.9" cy="270.4" r="1.95" fill="#969696" stroke="#000" stroke-width="1.28"/>
<circle cx="123.4" cy="270.4" r="1.95" fill="#969696" stroke="#000" stroke-width="1.28"/>
<circle cx="127.2" cy="270.4" r="1.95" fill="#969696" stroke="#000" stroke-width="1.28"/>
<circle cx="121" cy="276.7" r="1.95" fill="#969696" stroke="#000" stroke-width="1.28"/>
<circle cx="116.7" cy="304.2" r="1.95" fill="#969696" stroke="#000" stroke-width="1.28"/>
<circle cx="117.6" cy="313.4" r="1.95" fill="#969696" stroke="#000" stroke-width="1.28"/>
<circle cx="117" cy="332.9" r="1.95" fill="#969696" stroke="#000" stroke-width="1.28"/>
<circle cx="117" cy="337.4" r="1.95" fill="#969696" stroke="#000" stroke-width="1.28"/>
<circle cx="116.3" cy="347.8" r="1.95" fill="#969696" stroke="#000" stroke-width="1.28"/>
<circle cx="119" cy="352.7" r="1.95" fill="#969696" stroke="#000" stroke-width="1.28"/>
<circle cx="118.1" cy="361.4" r="1.95" fill="#969696" stroke="#000" stroke-width="1.28"/>
<circle cx="114.7" cy="376.1" r="1.95" fill="#969696" stroke="#000" stroke-width="1.28"/>
<circle cx="120.1" cy="379.5" r="1.95" fill="#969696" stroke="#000" stroke-width="1.28"/>
<circle cx="115.4" cy="382.6" r="1.95" fill="#969696" stroke="#000" stroke-width="1.28"/>
<circle cx="117.7" cy="394.2" r="1.95" fill="#969696" stroke="#000" stroke-width="1.28"/>
<circle cx="223.8" cy="269.5" r="1.95" fill="#969696" stroke="#000" stroke-width="1.28"/>
<circle cx="228.8" cy="269.5" r="1.95" fill="#969696" stroke="#000" stroke-width="1.28"/>
<circle cx="225.2" cy="359.3" r="1.95" fill="#969696" stroke="#000" stroke-width="1.28"/>
<circle cx="230.8" cy="359.3" r="1.95" fill="#969696" stroke="#000" stroke-width="1.28"/>
<circle cx="226.5" cy="393.5" r="1.95" fill="#969696" stroke="#000" stroke-width="1.28"/>
<circle cx="228.75" cy="397.9" r="1.95" fill="#969696" stroke="#000" stroke-width="1.28"/>
<circle cx="234.1" cy="396.8" r="1.95" fill="#969696" stroke="#000" stroke-width="1.28"/>
<circle cx="239" cy="397.3" r="1.95" fill="#969696" stroke="#000" stroke-width="1.28"/>
<circle cx="225.2" cy="399.3" r="1.95" fill="#969696" stroke="#000" stroke-width="1.28"/>
<circle cx="230.7" cy="401.5" r="1.95" fill="#969696" stroke="#000" stroke-width="1.28"/>
<circle cx="221.4" cy="403.75" r="1.95" fill="#969696" stroke="#000" stroke-width="1.28"/>
<circle cx="227.4" cy="403.9" r="1.95" fill="#969696" stroke="#000" stroke-width="1.28"/>
<circle cx="235.2" cy="404.6" r="1.95" fill="#969696" stroke="#000" stroke-width="1.28"/>
<circle cx="239.9" cy="404.6" r="1.95" fill="#969696" stroke="#000" stroke-width="1.28"/>
<circle cx="224.5" cy="408.9" r="1.95" fill="#969696" stroke="#000" stroke-width="1.28"/>
<circle cx="230.1" cy="409.3" r="1.95" fill="#969696" stroke="#000" stroke-width="1.28"/>
<circle cx="236.1" cy="410.4" r="1.95" fill="#969696" stroke="#000" stroke-width="1.28"/>
<circle cx="241.1" cy="408.9" r="1.95" fill="#969696" stroke="#000" stroke-width="1.28"/>
<circle cx="223.8" cy="413.4" r="1.95" fill="#969696" stroke="#000" stroke-width="1.28"/>
<circle cx="228.75" cy="414.6" r="1.95" fill="#969696" stroke="#000" stroke-width="1.28"/>
<circle cx="233.9" cy="414.3" r="1.95" fill="#969696" stroke="#000" stroke-width="1.28"/>
<circle cx="239.9" cy="414" r="1.95" fill="#969696" stroke="#000" stroke-width="1.28"/>
<circle cx="230.4" cy="418.75" r="1.95" fill="#969696" stroke="#000" stroke-width="1.28"/>
<line x1="53" y1="361.8" x2="73.6" y2="361.8" stroke="#000" stroke-width="1.2"/>
<line x1="77.4" y1="331.2" x2="97.8" y2="331.2" stroke="#000" stroke-width="1.2"/>
<line x1="104.9" y1="273.9" x2="137" y2="273.9" stroke="#000" stroke-width="1.2"/>
<line x1="149.3" y1="406.6" x2="173.5" y2="406.6" stroke="#000" stroke-width="1.2"/>
<line x1="176.9" y1="406.5" x2="208.8" y2="406.5" stroke="#000" stroke-width="1.2"/>
<line x1="216.3" y1="404.2" x2="246.2" y2="404.2" stroke="#000" stroke-width="1.2"/>
<text font-size="17.5" font-weight="bold" text-anchor="start" transform="translate(284.8 242.8)" stroke="#000" stroke-width="0.55">D</text>
<text font-size="10" font-weight="bold" font-style="italic" text-anchor="start" transform="translate(392.3 244.5)" stroke="#000" stroke-width="0.55">Collagen</text>
<line x1="320.3" y1="260.2" x2="320.3" y2="424.4" stroke="#000" stroke-width="1.25"/>
<line x1="317.1" y1="423.9" x2="320.3" y2="423.9" stroke="#000" stroke-width="1.0"/>
<text font-size="9.8" font-weight="normal" text-anchor="end" transform="translate(312.6 427.29999999999995) scale(0.93 1)" stroke="#000" stroke-width="0.5">0</text>
<line x1="318.90000000000003" y1="410.29999999999995" x2="320.3" y2="410.29999999999995" stroke="#000" stroke-width="1.0"/>
<line x1="317.1" y1="396.7" x2="320.3" y2="396.7" stroke="#000" stroke-width="1.0"/>
<text font-size="9.8" font-weight="normal" text-anchor="end" transform="translate(312.6 400.09999999999997) scale(0.93 1)" stroke="#000" stroke-width="0.5">50</text>
<line x1="318.90000000000003" y1="383.09999999999997" x2="320.3" y2="383.09999999999997" stroke="#000" stroke-width="1.0"/>
<line x1="317.1" y1="369.5" x2="320.3" y2="369.5" stroke="#000" stroke-width="1.0"/>
<text font-size="9.8" font-weight="normal" text-anchor="end" transform="translate(312.6 372.9) scale(0.93 1)" stroke="#000" stroke-width="0.5">100</text>
<line x1="318.90000000000003" y1="355.9" x2="320.3" y2="355.9" stroke="#000" stroke-width="1.0"/>
<line x1="317.1" y1="342.29999999999995" x2="320.3" y2="342.29999999999995" stroke="#000" stroke-width="1.0"/>
<text font-size="9.8" font-weight="normal" text-anchor="end" transform="translate(312.6 345.69999999999993) scale(0.93 1)" stroke="#000" stroke-width="0.5">150</text>
<line x1="318.90000000000003" y1="328.69999999999993" x2="320.3" y2="328.69999999999993" stroke="#000" stroke-width="1.0"/>
<line x1="317.1" y1="315.09999999999997" x2="320.3" y2="315.09999999999997" stroke="#000" stroke-width="1.0"/>
<text font-size="9.8" font-weight="normal" text-anchor="end" transform="translate(312.6 318.49999999999994) scale(0.93 1)" stroke="#000" stroke-width="0.5">200</text>
<line x1="318.90000000000003" y1="301.49999999999994" x2="320.3" y2="301.49999999999994" stroke="#000" stroke-width="1.0"/>
<line x1="317.1" y1="287.9" x2="320.3" y2="287.9" stroke="#000" stroke-width="1.0"/>
<text font-size="9.8" font-weight="normal" text-anchor="end" transform="translate(312.6 291.29999999999995) scale(0.93 1)" stroke="#000" stroke-width="0.5">250</text>
<line x1="318.90000000000003" y1="274.29999999999995" x2="320.3" y2="274.29999999999995" stroke="#000" stroke-width="1.0"/>
<line x1="317.1" y1="260.7" x2="320.3" y2="260.7" stroke="#000" stroke-width="1.0"/>
<text font-size="9.8" font-weight="normal" text-anchor="end" transform="translate(312.6 264.09999999999997) scale(0.93 1)" stroke="#000" stroke-width="0.5">300</text>
<text font-size="8.9" font-weight="bold" text-anchor="middle" transform="translate(290.7 346.3) rotate(-90) scale(0.93 1)" stroke="#000" stroke-width="0.55">Lag time (sec)</text>
<text font-size="7" font-weight="bold" text-anchor="middle" transform="translate(340.9 426.9)" stroke="#000" stroke-width="0.55">RR</text>
<text font-size="7" font-weight="bold" text-anchor="middle" transform="translate(376.1 426.9)" stroke="#000" stroke-width="0.55">HR</text>
<text font-size="7" font-weight="bold" text-anchor="middle" transform="translate(409.9 426.9)" stroke="#000" stroke-width="0.55">HH</text>
<text font-size="7" font-weight="bold" text-anchor="middle" transform="translate(449.1 426.9)" stroke="#000" stroke-width="0.55">RR</text>
<text font-size="7" font-weight="bold" text-anchor="middle" transform="translate(478.5 426.9)" stroke="#000" stroke-width="0.55">HR</text>
<text font-size="7" font-weight="bold" text-anchor="middle" transform="translate(508.8 426.9)" stroke="#000" stroke-width="0.55">HH</text>
<text font-size="8.5" font-weight="bold" text-anchor="middle" transform="translate(376.4 443.1)" stroke="#000" stroke-width="0.55">PRP</text>
<text font-size="8.5" font-weight="bold" text-anchor="middle" transform="translate(478.8 443.1)" stroke="#000" stroke-width="0.55">WP</text>
<circle cx="339.4" cy="367.3" r="1.95" fill="none" stroke="#000" stroke-width="1.28"/>
<circle cx="328.7" cy="383.4" r="1.95" fill="none" stroke="#000" stroke-width="1.28"/>
<circle cx="334.1" cy="386.6" r="1.95" fill="none" stroke="#000" stroke-width="1.28"/>
<circle cx="339" cy="386.6" r="1.95" fill="none" stroke="#000" stroke-width="1.28"/>
<circle cx="346.1" cy="386.6" r="1.95" fill="none" stroke="#000" stroke-width="1.28"/>
<circle cx="349.7" cy="388.6" r="1.95" fill="none" stroke="#000" stroke-width="1.28"/>
<circle cx="335.4" cy="389.5" r="1.95" fill="none" stroke="#000" stroke-width="1.28"/>
<circle cx="343" cy="389" r="1.95" fill="none" stroke="#000" stroke-width="1.28"/>
<circle cx="330.9" cy="391.7" r="1.95" fill="none" stroke="#000" stroke-width="1.28"/>
<circle cx="340.3" cy="391.7" r="1.95" fill="none" stroke="#000" stroke-width="1.28"/>
<circle cx="347.4" cy="391.7" r="1.95" fill="none" stroke="#000" stroke-width="1.28"/>
<circle cx="351.5" cy="392.9" r="1.95" fill="none" stroke="#000" stroke-width="1.28"/>
<circle cx="331.8" cy="395" r="1.95" fill="none" stroke="#000" stroke-width="1.28"/>
<circle cx="337.6" cy="395" r="1.95" fill="none" stroke="#000" stroke-width="1.28"/>
<circle cx="343" cy="395" r="1.95" fill="none" stroke="#000" stroke-width="1.28"/>
<circle cx="371.6" cy="368.5" r="1.95" fill="none" stroke="#000" stroke-width="1.28"/>
<circle cx="377.4" cy="367.3" r="1.95" fill="none" stroke="#000" stroke-width="1.28"/>
<circle cx="381.9" cy="366.25" r="1.95" fill="none" stroke="#000" stroke-width="1.28"/>
<circle cx="360.5" cy="374.3" r="1.95" fill="none" stroke="#000" stroke-width="1.28"/>
<circle cx="366.5" cy="375.4" r="1.95" fill="none" stroke="#000" stroke-width="1.28"/>
<circle cx="372.5" cy="374.1" r="1.95" fill="none" stroke="#000" stroke-width="1.28"/>
<circle cx="378.1" cy="375.2" r="1.95" fill="none" stroke="#000" stroke-width="1.28"/>
<circle cx="381.9" cy="373.2" r="1.95" fill="none" stroke="#000" stroke-width="1.28"/>
<circle cx="386.4" cy="374.3" r="1.95" fill="none" stroke="#000" stroke-width="1.28"/>
<circle cx="362.7" cy="381.25" r="1.95" fill="none" stroke="#000" stroke-width="1.28"/>
<circle cx="367.6" cy="380.7" r="1.95" fill="none" stroke="#000" stroke-width="1.28"/>
<circle cx="373" cy="378.9" r="1.95" fill="none" stroke="#000" stroke-width="1.28"/>
<circle cx="377.25" cy="381" r="1.95" fill="none" stroke="#000" stroke-width="1.28"/>
<circle cx="382.3" cy="378.9" r="1.95" fill="none" stroke="#000" stroke-width="1.28"/>
<circle cx="386.8" cy="379.5" r="1.95" fill="none" stroke="#000" stroke-width="1.28"/>
<circle cx="390.8" cy="379.2" r="1.95" fill="none" stroke="#000" stroke-width="1.28"/>
<circle cx="359.1" cy="388.4" r="1.95" fill="none" stroke="#000" stroke-width="1.28"/>
<circle cx="363.6" cy="386.3" r="1.95" fill="none" stroke="#000" stroke-width="1.28"/>
<circle cx="367.6" cy="386.1" r="1.95" fill="none" stroke="#000" stroke-width="1.28"/>
<circle cx="372.1" cy="385.2" r="1.95" fill="none" stroke="#000" stroke-width="1.28"/>
<circle cx="376.5" cy="385.7" r="1.95" fill="none" stroke="#000" stroke-width="1.28"/>
<circle cx="381.4" cy="385.2" r="1.95" fill="none" stroke="#000" stroke-width="1.28"/>
<circle cx="385.9" cy="386.1" r="1.95" fill="none" stroke="#000" stroke-width="1.28"/>
<circle cx="389.5" cy="388.4" r="1.95" fill="none" stroke="#000" stroke-width="1.28"/>
<circle cx="365.4" cy="390.5" r="1.95" fill="none" stroke="#000" stroke-width="1.28"/>
<circle cx="369.4" cy="391.1" r="1.95" fill="none" stroke="#000" stroke-width="1.28"/>
<circle cx="373.4" cy="389.9" r="1.95" fill="none" stroke="#000" stroke-width="1.28"/>
<circle cx="377.4" cy="390.8" r="1.95" fill="none" stroke="#000" stroke-width="1.28"/>
<circle cx="381.9" cy="389.9" r="1.95" fill="none" stroke="#000" stroke-width="1.28"/>
<circle cx="367.6" cy="395.7" r="1.95" fill="none" stroke="#000" stroke-width="1.28"/>
<circle cx="377.4" cy="395" r="1.95" fill="none" stroke="#000" stroke-width="1.28"/>
<circle cx="385.5" cy="394.1" r="1.95" fill="none" stroke="#000" stroke-width="1.28"/>
<circle cx="444.3" cy="267.1" r="1.95" fill="none" stroke="#000" stroke-width="1.28"/>
<circle cx="449.5" cy="267.1" r="1.95" fill="none" stroke="#000" stroke-width="1.28"/>
<circle cx="454.8" cy="267.1" r="1.95" fill="none" stroke="#000" stroke-width="1.28"/>
<circle cx="443.4" cy="347.4" r="1.95" fill="none" stroke="#000" stroke-width="1.28"/>
<circle cx="449.8" cy="346.4" r="1.95" fill="none" stroke="#000" stroke-width="1.28"/>
<circle cx="454.4" cy="349.6" r="1.95" fill="none" stroke="#000" stroke-width="1.28"/>
<circle cx="448.7" cy="352" r="1.95" fill="none" stroke="#000" stroke-width="1.28"/>
<circle cx="451.7" cy="356.7" r="1.95" fill="none" stroke="#000" stroke-width="1.28"/>
<circle cx="446.3" cy="361.2" r="1.95" fill="none" stroke="#000" stroke-width="1.28"/>
<circle cx="451.7" cy="364.1" r="1.95" fill="none" stroke="#000" stroke-width="1.28"/>
<circle cx="448.7" cy="368.1" r="1.95" fill="none" stroke="#000" stroke-width="1.28"/>
<circle cx="455.4" cy="368.4" r="1.95" fill="none" stroke="#000" stroke-width="1.28"/>
<circle cx="449.4" cy="378.2" r="1.95" fill="none" stroke="#000" stroke-width="1.28"/>
<circle cx="449.4" cy="382.6" r="1.95" fill="none" stroke="#000" stroke-width="1.28"/>
<circle cx="449.4" cy="387.9" r="1.95" fill="none" stroke="#000" stroke-width="1.28"/>
<circle cx="469" cy="265.9" r="1.95" fill="none" stroke="#000" stroke-width="1.28"/>
<circle cx="474.1" cy="265.9" r="1.95" fill="none" stroke="#000" stroke-width="1.28"/>
<circle cx="479" cy="265.9" r="1.95" fill="none" stroke="#000" stroke-width="1.28"/>
<circle cx="484.5" cy="265.9" r="1.95" fill="none" stroke="#000" stroke-width="1.28"/>
<circle cx="471.5" cy="270.2" r="1.95" fill="none" stroke="#000" stroke-width="1.28"/>
<circle cx="476.2" cy="270.2" r="1.95" fill="none" stroke="#000" stroke-width="1.28"/>
<circle cx="480.5" cy="270.2" r="1.95" fill="none" stroke="#000" stroke-width="1.28"/>
<circle cx="484.2" cy="270.2" r="1.95" fill="none" stroke="#000" stroke-width="1.28"/>
<circle cx="471.6" cy="353.2" r="1.95" fill="none" stroke="#000" stroke-width="1.28"/>
<circle cx="481" cy="353.9" r="1.95" fill="none" stroke="#000" stroke-width="1.28"/>
<circle cx="477" cy="356.2" r="1.95" fill="none" stroke="#000" stroke-width="1.28"/>
<circle cx="471.6" cy="357.5" r="1.95" fill="none" stroke="#000" stroke-width="1.28"/>
<circle cx="474.7" cy="359.3" r="1.95" fill="none" stroke="#000" stroke-width="1.28"/>
<circle cx="480.1" cy="358.4" r="1.95" fill="none" stroke="#000" stroke-width="1.28"/>
<circle cx="484.1" cy="358.2" r="1.95" fill="none" stroke="#000" stroke-width="1.28"/>
<circle cx="488.6" cy="358.4" r="1.95" fill="none" stroke="#000" stroke-width="1.28"/>
<circle cx="478.3" cy="361.1" r="1.95" fill="none" stroke="#000" stroke-width="1.28"/>
<circle cx="473.4" cy="362.9" r="1.95" fill="none" stroke="#000" stroke-width="1.28"/>
<circle cx="483.2" cy="362.9" r="1.95" fill="none" stroke="#000" stroke-width="1.28"/>
<circle cx="478.75" cy="364.8" r="1.95" fill="none" stroke="#000" stroke-width="1.28"/>
<circle cx="469.8" cy="366.9" r="1.95" fill="none" stroke="#000" stroke-width="1.28"/>
<circle cx="482.3" cy="366.6" r="1.95" fill="none" stroke="#000" stroke-width="1.28"/>
<circle cx="486.3" cy="366.25" r="1.95" fill="none" stroke="#000" stroke-width="1.28"/>
<circle cx="475.2" cy="369.1" r="1.95" fill="none" stroke="#000" stroke-width="1.28"/>
<circle cx="479.6" cy="369.3" r="1.95" fill="none" stroke="#000" stroke-width="1.28"/>
<circle cx="483.9" cy="371.3" r="1.95" fill="none" stroke="#000" stroke-width="1.28"/>
<circle cx="488.75" cy="370.9" r="1.95" fill="none" stroke="#000" stroke-width="1.28"/>
<circle cx="476.25" cy="373.75" r="1.95" fill="none" stroke="#000" stroke-width="1.28"/>
<circle cx="481" cy="375.8" r="1.95" fill="none" stroke="#000" stroke-width="1.28"/>
<circle cx="485.4" cy="376.4" r="1.95" fill="none" stroke="#000" stroke-width="1.28"/>
<circle cx="472.9" cy="377.1" r="1.95" fill="none" stroke="#000" stroke-width="1.28"/>
<circle cx="476.9" cy="380.8" r="1.95" fill="none" stroke="#000" stroke-width="1.28"/>
<circle cx="473.1" cy="383.8" r="1.95" fill="none" stroke="#000" stroke-width="1.28"/>
<circle cx="477.7" cy="386.2" r="1.95" fill="none" stroke="#000" stroke-width="1.28"/>
<circle cx="482.3" cy="385.4" r="1.95" fill="none" stroke="#000" stroke-width="1.28"/>
<circle cx="410.3" cy="384.3" r="1.95" fill="#969696" stroke="#000" stroke-width="1.28"/>
<circle cx="416.4" cy="384.3" r="1.95" fill="#969696" stroke="#000" stroke-width="1.28"/>
<circle cx="422.6" cy="386.5" r="1.95" fill="#969696" stroke="#000" stroke-width="1.28"/>
<circle cx="403.4" cy="387.1" r="1.95" fill="#969696" stroke="#000" stroke-width="1.28"/>
<circle cx="406.9" cy="388.3" r="1.95" fill="#969696" stroke="#000" stroke-width="1.28"/>
<circle cx="412.8" cy="388.9" r="1.95" fill="#969696" stroke="#000" stroke-width="1.28"/>
<circle cx="417.6" cy="388.3" r="1.95" fill="#969696" stroke="#000" stroke-width="1.28"/>
<circle cx="423.7" cy="390.7" r="1.95" fill="#969696" stroke="#000" stroke-width="1.28"/>
<circle cx="396.9" cy="392.8" r="1.95" fill="#969696" stroke="#000" stroke-width="1.28"/>
<circle cx="401.2" cy="392.3" r="1.95" fill="#969696" stroke="#000" stroke-width="1.28"/>
<circle cx="409.25" cy="391.6" r="1.95" fill="#969696" stroke="#000" stroke-width="1.28"/>
<circle cx="413.9" cy="391.9" r="1.95" fill="#969696" stroke="#000" stroke-width="1.28"/>
<circle cx="418.4" cy="392.8" r="1.95" fill="#969696" stroke="#000" stroke-width="1.28"/>
<circle cx="425.5" cy="394.3" r="1.95" fill="#969696" stroke="#000" stroke-width="1.28"/>
<circle cx="399.6" cy="396.6" r="1.95" fill="#969696" stroke="#000" stroke-width="1.28"/>
<circle cx="405" cy="395.9" r="1.95" fill="#969696" stroke="#000" stroke-width="1.28"/>
<circle cx="409.4" cy="396.3" r="1.95" fill="#969696" stroke="#000" stroke-width="1.28"/>
<circle cx="415.2" cy="396.6" r="1.95" fill="#969696" stroke="#000" stroke-width="1.28"/>
<circle cx="420.3" cy="396.6" r="1.95" fill="#969696" stroke="#000" stroke-width="1.28"/>
<circle cx="423.7" cy="398.4" r="1.95" fill="#969696" stroke="#000" stroke-width="1.28"/>
<circle cx="405.4" cy="400.2" r="1.95" fill="#969696" stroke="#000" stroke-width="1.28"/>
<circle cx="411" cy="400.8" r="1.95" fill="#969696" stroke="#000" stroke-width="1.28"/>
<circle cx="416.4" cy="401.4" r="1.95" fill="#969696" stroke="#000" stroke-width="1.28"/>
<circle cx="498.1" cy="267.1" r="1.95" fill="#969696" stroke="#000" stroke-width="1.28"/>
<circle cx="502.9" cy="267.1" r="1.95" fill="#969696" stroke="#000" stroke-width="1.28"/>
<circle cx="507.9" cy="267.1" r="1.95" fill="#969696" stroke="#000" stroke-width="1.28"/>
<circle cx="513.3" cy="267.1" r="1.95" fill="#969696" stroke="#000" stroke-width="1.28"/>
<circle cx="506.7" cy="348" r="1.95" fill="#969696" stroke="#000" stroke-width="1.28"/>
<circle cx="504.3" cy="353.2" r="1.95" fill="#969696" stroke="#000" stroke-width="1.28"/>
<circle cx="509" cy="355.4" r="1.95" fill="#969696" stroke="#000" stroke-width="1.28"/>
<circle cx="515.9" cy="357" r="1.95" fill="#969696" stroke="#000" stroke-width="1.28"/>
<circle cx="505.1" cy="357.9" r="1.95" fill="#969696" stroke="#000" stroke-width="1.28"/>
<circle cx="510.6" cy="359.5" r="1.95" fill="#969696" stroke="#000" stroke-width="1.28"/>
<circle cx="501.2" cy="361.8" r="1.95" fill="#969696" stroke="#000" stroke-width="1.28"/>
<circle cx="506.7" cy="361.8" r="1.95" fill="#969696" stroke="#000" stroke-width="1.28"/>
<circle cx="513.7" cy="362.9" r="1.95" fill="#969696" stroke="#000" stroke-width="1.28"/>
<circle cx="509.5" cy="366.6" r="1.95" fill="#969696" stroke="#000" stroke-width="1.28"/>
<circle cx="513.7" cy="367" r="1.95" fill="#969696" stroke="#000" stroke-width="1.28"/>
<circle cx="504" cy="367.9" r="1.95" fill="#969696" stroke="#000" stroke-width="1.28"/>
<circle cx="502.5" cy="371.5" r="1.95" fill="#969696" stroke="#000" stroke-width="1.28"/>
<circle cx="508.1" cy="370.7" r="1.95" fill="#969696" stroke="#000" stroke-width="1.28"/>
<circle cx="513.4" cy="371.8" r="1.95" fill="#969696" stroke="#000" stroke-width="1.28"/>
<circle cx="510.1" cy="375.5" r="1.95" fill="#969696" stroke="#000" stroke-width="1.28"/>
<circle cx="506.2" cy="379.3" r="1.95" fill="#969696" stroke="#000" stroke-width="1.28"/>
<circle cx="505.6" cy="385.2" r="1.95" fill="#969696" stroke="#000" stroke-width="1.28"/>
<circle cx="510.6" cy="383.5" r="1.95" fill="#969696" stroke="#000" stroke-width="1.28"/>
<line x1="327.8" y1="390.8" x2="354.6" y2="390.8" stroke="#000" stroke-width="1.2"/>
<line x1="357.3" y1="383.9" x2="392.6" y2="383.9" stroke="#000" stroke-width="1.2"/>
<line x1="393.4" y1="393.4" x2="430" y2="393.4" stroke="#000" stroke-width="1.2"/>
<line x1="440" y1="356.7" x2="460.5" y2="356.7" stroke="#000" stroke-width="1.2"/>
<line x1="466.25" y1="361.8" x2="491.25" y2="361.8" stroke="#000" stroke-width="1.2"/>
<line x1="495" y1="361.2" x2="520" y2="361.2" stroke="#000" stroke-width="1.2"/>
</svg>
</body></html>
